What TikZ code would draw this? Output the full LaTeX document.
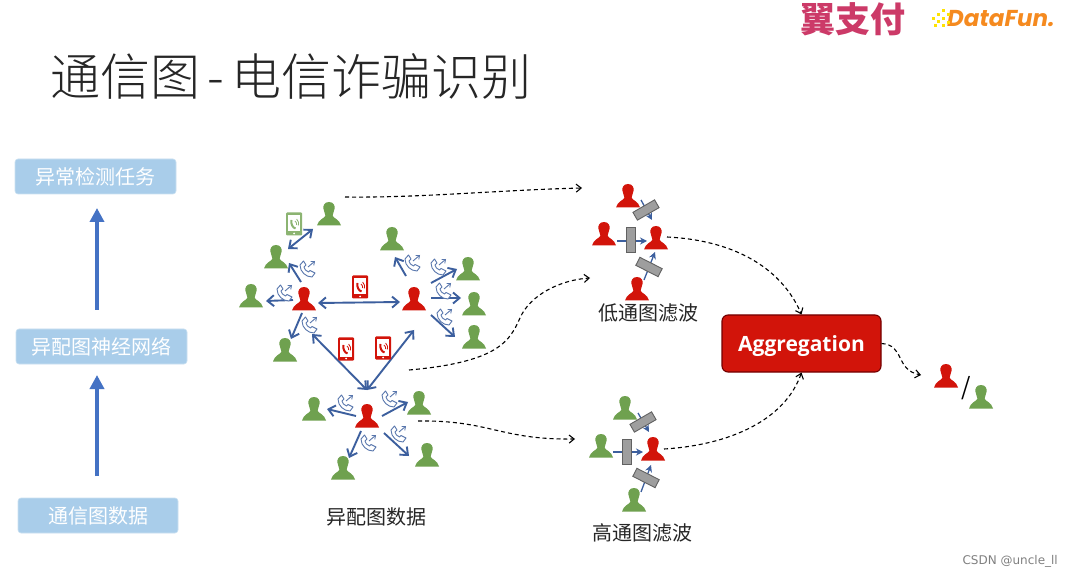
\documentclass[tikz,border=0pt]{standalone}
\usepackage{fontspec}
\setmainfont{Noto Sans CJK SC}
\newfontfamily\cjklight{Noto Sans CJK SC Light}
\newfontfamily\cjkbold{Noto Sans CJK SC}[BoldFont={* Bold}]
\newfontfamily\aggfont{Open Sans}
\newfontfamily\logofont{Poppins}
\newfontfamily\wmfont{DejaVu Sans}
\usetikzlibrary{arrows.meta,calc}
\definecolor{pgreen}{HTML}{6FA14F}
\definecolor{pred}{HTML}{D2140A}
\definecolor{linkblue}{HTML}{3C5F9E}
\definecolor{tagblue}{HTML}{A9CDEA}
\definecolor{bigblue}{HTML}{4472C4}
\definecolor{logopink}{HTML}{CC3A68}
\definecolor{logoorange}{HTML}{F58A1F}
\tikzset{
  x=1pt,y=-1pt,
  personnode/.style={circle,minimum size=24pt,inner sep=0pt,outer sep=0pt},
  link/.style={draw=linkblue,line width=1.9pt,-{Straight Barb[length=6.5pt,width=11pt,line width=1.9pt]}},
  linkboth/.style={draw=linkblue,line width=1.9pt,{Straight Barb[length=6.5pt,width=11pt,line width=1.9pt]}-{Straight Barb[length=6.5pt,width=11pt,line width=1.9pt]}},
  flowlink/.style={draw=linkblue,line width=1.3pt,-{Stealth[length=7pt,width=7pt]}},
  dashflow/.style={draw=black,line width=1.1pt,dash pattern=on 4pt off 3pt,-{Straight Barb[length=5pt,width=8pt,line width=1.1pt]}},
  tagbox/.style={fill=tagblue,draw=tagblue!60!white,line width=.6pt,rounded corners=3pt,text=white,font=\fontsize{20}{24}\selectfont,inner sep=0pt,anchor=center},
  filterbar/.style={fill=black!38,draw=black!62,line width=.9pt,minimum width=25pt,minimum height=9pt,inner sep=0pt},
  uparrow/.style={draw=bigblue,line width=4pt,-{Triangle[length=14pt,width=14pt]}},
  caption/.style={font=\fontsize{20}{24}\selectfont,text=black!85,inner sep=0pt}
}
\newcommand{\person}[4]{%
  \node[personnode] (#1) at (#2,#3) {};
  \begin{scope}[shift={(#2,#3)}]
    \fill[#4] (0,-12) .. controls (4.5,-12) and (6,-8.5) .. (5.6,-5.5)
      .. controls (5.2,-2.5) and (3.8,-.5) .. (3.6,1.5)
      .. controls (3.6,4) and (10.5,5) .. (12,11.5) -- (-12,11.5)
      .. controls (-10.5,5) and (-3.6,4) .. (-3.6,1.5)
      .. controls (-3.8,-.5) and (-5.2,-2.5) .. (-5.6,-5.5)
      .. controls (-6,-8.5) and (-4.5,-12) .. (0,-12) -- cycle;
  \end{scope}}
\newcommand{\phoneicon}[3]{%
  \begin{scope}[shift={(#1,#2)}]
    \fill[#3,rounded corners=1pt] (-8,-11.5) rectangle (8,11.5);
    \fill[white] (-6.3,-8.5) rectangle (6.3,7.5);
    \fill[white] (0,9.5) circle (1pt);
    \draw[#3,line width=2pt] (-2.5,-4) .. controls (-3.5,0) and (-1,4) .. (1.5,4.5);
    \draw[#3,line width=.8pt] (1,-3) .. controls (2.5,-2) and (2.8,-.5) .. (2.4,1);
    \draw[#3,line width=.8pt] (2.6,-5) .. controls (4.8,-3) and (5,-.5) .. (4.3,1.5);
  \end{scope}}
\newcommand{\callicon}[2]{%
  \begin{scope}[shift={(#1,#2)}]
    \draw[linkblue!85!white,line width=.9pt,fill=white,line join=round] (-7,-4)
      .. controls (-7,3) and (-1,8) .. (5,8) -- (8,4) -- (3,1.5) -- (1.5,3)
      .. controls (-1,2) and (-3,0) .. (-3,-2) -- (-1,-4) -- (-3.5,-8) -- cycle;
    \draw[linkblue!85!white,line width=.9pt,-{Straight Barb[length=3pt,width=5pt,line width=.9pt]}] (1,-2) -- (8,-8);
  \end{scope}}
\begin{document}
\begin{tikzpicture}
\useasboundingbox (0,0) rectangle (1071,577);
\fill[white] (0,0) rectangle (1071,577);

% title
\node[inner sep=0pt,anchor=center,text=black!85,font=\fontsize{50}{60}\cjklight] (title) at (291,76) {通信图\kern7pt-\kern7pt电信诈骗识别};

% logos
\node[inner sep=0pt,text=logopink,font=\fontsize{35}{40}\cjkbold\bfseries\itshape] (logoa) at (853,19) {翼支付};
\node[inner sep=0pt,anchor=west,text=logoorange,font=\fontsize{23}{26}\logofont\bfseries\itshape] (logob) at (947,19) {DataFun.};
\foreach \dx/\dy in {932/17,937/13,942/9,937/20,942/17,947/13,942/24,947/21,934/24}
  \fill[yellow!85!orange] (\dx,\dy) rectangle +(3,3);

% left column
\node[tagbox,minimum width=161pt,minimum height=35pt] (t3) at (95.5,176.5) {异常检测任务};
\node[tagbox,minimum width=171pt,minimum height=35pt] (t2) at (101.5,346.5) {异配图神经网络};
\node[tagbox,minimum width=160pt,minimum height=35pt] (t1) at (98,515.5) {通信图数据};
\coordinate (u1s) at (97,476); \coordinate (u1e) at (97,375);
\coordinate (u2s) at (97,310); \coordinate (u2e) at (97,208);
\draw[uparrow] (u1s) -- (u1e);
\draw[uparrow] (u2s) -- (u2e);

% graph persons
\person{Pa}{329}{214}{pgreen}
\person{Pb}{276}{257}{pgreen}
\person{Pc}{251}{296}{pgreen}
\person{Ra}{304}{299}{pred}
\person{Rb}{414}{299}{pred}
\person{Pd}{285}{350}{pgreen}
\person{Pe}{392}{239}{pgreen}
\person{Pf}{468}{269}{pgreen}
\person{Pg}{474}{304}{pgreen}
\person{Ph}{474}{337}{pgreen}
\person{Rc}{367}{416}{pred}
\person{Pi}{314}{409}{pgreen}
\person{Pj}{419}{403}{pgreen}
\person{Pk}{343}{468}{pgreen}
\person{Pl}{427}{455}{pgreen}

% graph links
\draw[linkboth] ($(Pa)+(-16,15)$) -- ($(Pb)+(12,-8)$);
\draw[link] ($(Ra)+(-3,-17)$) -- ($(Pb)+(13,6)$);
\draw[link] ($(Ra)+(-11,1)$) -- ($(Pc)+(15,5)$);
\draw[linkboth] ($(Ra)+(14,4)$) -- ($(Rb)+(-14,3)$);
\draw[link] ($(Ra)+(-2,14)$) -- ($(Pd)+(6,-11)$);
\draw[link] ($(Rb)+(-8,-23)$) -- ($(Pe)+(3,18)$);
\draw[link] ($(Rb)+(17,-16)$) -- ($(Pf)+(-11,0)$);
\draw[link] ($(Rb)+(17,-1)$) -- ($(Pg)+(-13,-6)$);
\draw[link] ($(Rb)+(17,16)$) -- ($(Ph)+(-19,0)$);
\draw[linkboth] ($(Rc)+(0,-26)$) -- ($(Ra)+(8,35)$);
\draw[linkboth] ($(Rc)+(0,-26)$) -- ($(Rb)+(0,31)$);
\draw[link] ($(Rc)+(-11,0)$) -- ($(Pi)+(13,0)$);
\draw[link] ($(Rc)+(15,0)$) -- ($(Pj)+(-11,-1)$);
\draw[link] ($(Rc)+(-6,15)$) -- ($(Pk)+(6,-10)$);
\draw[link] ($(Rc)+(17,17)$) -- ($(Pl)+(-18,1)$);

% phones
\phoneicon{294}{224}{pgreen!80!white}
\phoneicon{360}{287}{pred}
\phoneicon{346}{349}{pred}
\phoneicon{383}{348}{pred}

% call icons
\callicon{307}{269}
\callicon{284}{293}
\callicon{309}{325}
\callicon{412}{263}
\callicon{438}{267}
\callicon{443}{291}
\callicon{444}{317}
\callicon{345}{403}
\callicon{389}{399}
\callicon{368}{443}
\callicon{398}{434}

% low-pass filter
\person{La}{628}{196}{pred}
\person{Lb}{604}{234}{pred}
\person{Lc}{656}{238}{pred}
\person{Ld}{637}{289}{pred}
\draw[flowlink] ($(La)+(13,4)$) -- ($(Lc)+(-4,-18)$);
\draw[flowlink] ($(Lb)+(13,7)$) -- ($(Lc)+(-9,3)$);
\draw[flowlink] ($(Ld)+(7,-9)$) -- ($(Lc)+(-1,14)$);
\node[filterbar,rotate=30] (Lfa) at (646,210) {};
\node[filterbar,rotate=90] (Lfb) at (631,240) {};
\node[filterbar,rotate=-27] (Lfc) at (649,267) {};

% high-pass filter
\person{Ha}{625}{408}{pgreen}
\person{Hb}{601}{446}{pgreen}
\person{Hc}{653}{449}{pred}
\person{Hd}{634}{500}{pgreen}
\draw[flowlink] ($(Ha)+(13,5)$) -- ($(Hc)+(-4,-17)$);
\draw[flowlink] ($(Hb)+(12,6)$) -- ($(Hc)+(-10,3)$);
\draw[flowlink] ($(Hd)+(7,-8)$) -- ($(Hc)+(-2,16)$);
\node[filterbar,rotate=30] (Hfa) at (643,422) {};
\node[filterbar,rotate=90] (Hfb) at (627,452) {};
\node[filterbar,rotate=-27] (Hfc) at (646,478) {};

% captions
\node[caption] (capa) at (376,517) {异配图数据};
\node[caption] (capb) at (648,313) {低通图滤波};
\node[caption] (capc) at (642,533) {高通图滤波};

% aggregation
\node[fill=pred,draw=black!55!red,line width=1.1pt,rounded corners=6pt,minimum width=159pt,minimum height=57pt,inner sep=0pt,text=white,font=\fontsize{21}{26}\aggfont\bfseries] (agg) at (801.5,343.5) {\smash{\raisebox{-8pt}{Aggregation}}};

% result
\person{Ra1}{946}{376}{pred}
\node[inner sep=0pt,font=\fontsize{24}{26}\selectfont,text=black] (slash) at (966.5,388) {/};
\person{Ga1}{981}{397}{pgreen}

% dashed flows
\coordinate (da) at (345,197); \coordinate (db) at (582,188);
\coordinate (dc) at (409,370); \coordinate (dd) at (590,278);
\coordinate (de) at (418,421); \coordinate (df) at (575,439);
\coordinate (dg) at (667,237); \coordinate (dh) at (664,449);
\coordinate (di) at (921,375);
\draw[dashflow] (da) .. controls (420,198) and (500,190) .. (db);
\draw[dashflow] (dc) .. controls (500,362) and (510,340) .. (520,318) .. controls (530,295) and (560,280) .. (dd);
\draw[dashflow] (de) .. controls (490,420) and (500,440) .. (df);
\draw[dashflow] (dg) .. controls (730,240) and (780,265) .. (agg.north);
\draw[dashflow] (dh) .. controls (730,445) and (785,420) .. (agg.south);
\draw[dashflow] (agg.east) .. controls (905,345) and (895,370) .. (di);

% watermark
\node[inner sep=0pt,anchor=east,text=black!50,font=\fontsize{12}{14}\wmfont] (wm) at (1058,561) {CSDN @uncle\_ll};
\end{tikzpicture}
\end{document}
